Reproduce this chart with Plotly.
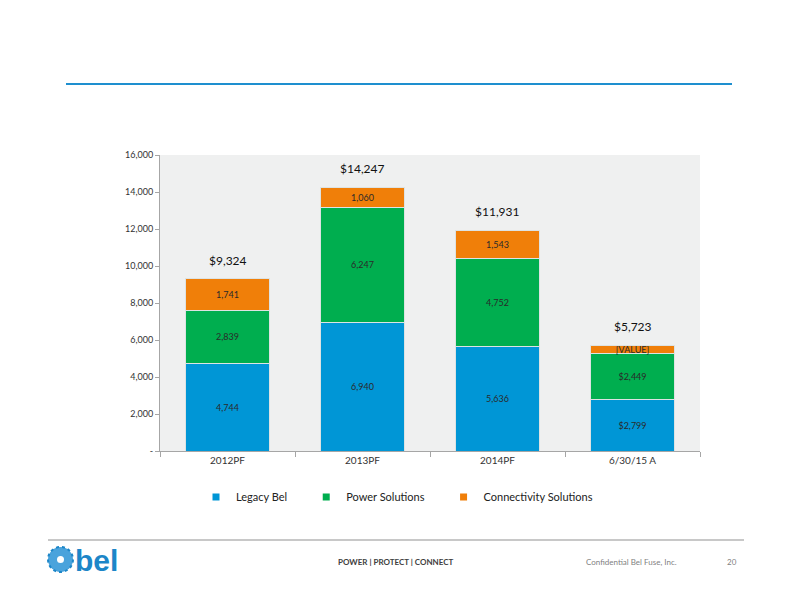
import plotly.graph_objects as go

categories = ["2012PF", "2013PF", "2014PF", "6/30/15 A"]
legacy_bel = [4744, 6940, 5636, 2799]
power_solutions = [2839, 6247, 4752, 2449]
connectivity_solutions = [1741, 1060, 1543, 475]
totals = [9324, 14247, 11931, 5723]
legacy_labels = ["4,744", "6,940", "5,636", "$2,799"]
power_labels = ["2,839", "6,247", "4,752", "$2,449"]
conn_labels = ["1,741", "1,060", "1,543", "[VALUE]"]
total_labels = ["$9,324", "$14,247", "$11,931", "$5,723"]
series_names = ["Legacy Bel", "Power Solutions", "Connectivity Solutions"]
y_tickvals = [0, 2000, 4000, 6000, 8000, 10000, 12000, 14000, 16000]
y_ticktext = ["-", "2,000", "4,000", "6,000", "8,000", "10,000", "12,000", "14,000", "16,000"]

FONT = "Lato, 'Open Sans', sans-serif"
colors = ["#0096D6", "#00AE4F", "#F07F09"]
fig = go.Figure()
for name, vals, labels, color in zip(series_names,
                                     [legacy_bel, power_solutions, connectivity_solutions],
                                     [legacy_labels, power_labels, conn_labels], colors):
    fig.add_trace(go.Bar(
        x=categories, y=vals, name=name, text=labels, showlegend=False,
        textposition="inside", insidetextanchor="middle", constraintext="none",
        textfont=dict(size=9, color="#2A2A2A", family=FONT),
        marker=dict(color=color, line=dict(color="#DDE3E3", width=1)),
        width=0.62,
    ))

# legend entries (small square swatches)
pads = ["\u00a0" * 5, "\u00a0" * 5, ""]
for name, color, pad in zip(series_names, colors, pads):
    fig.add_trace(go.Scatter(
        x=[None], y=[None], mode="markers", name=name + pad,
        marker=dict(symbol="square", size=7, color=color),
    ))

for c, t, lab in zip(categories, totals, total_labels):
    fig.add_annotation(x=c, y=t, text=lab, showarrow=False, yanchor="bottom",
                       yshift=9, font=dict(size=12, color="#111111", family=FONT))

# header line
fig.add_shape(type="line", xref="paper", yref="paper", x0=-94/540, x1=572/540,
              y0=1 + 71/296, y1=1 + 71/296, line=dict(color="#1E8FCF", width=2))
# footer line
fig.add_shape(type="line", xref="paper", yref="paper", x0=-112/540, x1=584/540,
              y0=-89/296, y1=-89/296, line=dict(color="#C8C8C8", width=2))
# logo mark
fig.add_shape(type="circle", xref="paper", yref="paper",
              x0=-112/540, x1=-87/540, y0=-(572 - 451)/296, y1=-(547 - 451)/296,
              fillcolor="#4AA3DC", line=dict(color="#1C86C8", width=2, dash="dot"))
fig.add_shape(type="circle", xref="paper", yref="paper",
              x0=-103/540, x1=-96/540, y0=-(563 - 451)/296, y1=-(556 - 451)/296,
              fillcolor="white", line=dict(width=0))
fig.add_annotation(xref="paper", yref="paper", x=-87/540, y=-(560 - 451)/296,
                   text="<b>bel</b>", showarrow=False, xanchor="left", yanchor="middle",
                   font=dict(size=30, color="#1C86C8", family="'Liberation Sans', Arial, sans-serif"))
fig.add_annotation(xref="paper", yref="paper", x=(396 - 160)/540, y=-(562 - 451)/296,
                   text="<b>POWER | PROTECT | CONNECT</b>", showarrow=False,
                   xanchor="center", yanchor="middle",
                   font=dict(size=8, color="#404040", family=FONT))
fig.add_annotation(xref="paper", yref="paper", x=(631 - 160)/540, y=-(562 - 451)/296,
                   text="Confidential Bel Fuse, Inc.", showarrow=False,
                   xanchor="center", yanchor="middle",
                   font=dict(size=8, color="#7F7F7F", family=FONT))
fig.add_annotation(xref="paper", yref="paper", x=(732 - 160)/540, y=-(562 - 451)/296,
                   text="20", showarrow=False, xanchor="center", yanchor="middle",
                   font=dict(size=8, color="#7F7F7F", family=FONT))

fig.update_layout(
    width=792, height=612, barmode="stack",
    margin=dict(l=160, r=92, t=155, b=161),
    paper_bgcolor="white", plot_bgcolor="#EFF0F0",
    font=dict(family=FONT, size=9, color="#333333"),
    legend=dict(orientation="h", x=(397 - 160)/540, xanchor="center", y=-46/296, yanchor="middle",
                font=dict(size=11, color="#222222", family=FONT),
                itemwidth=30, tracegroupgap=0, traceorder="normal"),
    xaxis=dict(showline=True, linecolor="#A6A6A6", ticks="outside", tickson="boundaries",
               ticklen=5, tickcolor="#A6A6A6", tickfont=dict(size=10, color="#333333")),
    yaxis=dict(range=[0, 16000], tickvals=y_tickvals, ticktext=y_ticktext,
               showgrid=False, zeroline=False, showline=True, linecolor="#A6A6A6",
               ticks="outside", ticklen=4, tickcolor="#A6A6A6",
               tickfont=dict(size=9, color="#333333")),
    showlegend=True,
)
fig.write_html("out.html")
